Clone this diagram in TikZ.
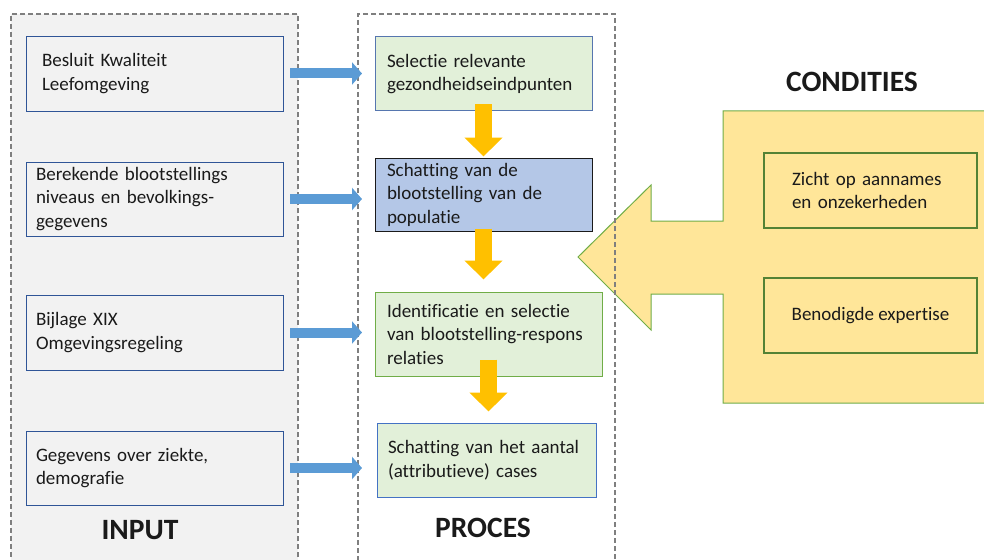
\documentclass[tikz,border=0pt]{standalone}
\usepackage{fontspec}
\setmainfont{Carlito}[Ligatures=NoCommon]
\usetikzlibrary{arrows.meta}
\definecolor{inbg}{HTML}{F2F2F2}
\definecolor{inline}{HTML}{2F5597}
\definecolor{grn}{HTML}{E2F0D9}
\definecolor{grnline}{HTML}{70AD47}
\definecolor{dkgrn}{HTML}{548235}
\definecolor{blu}{HTML}{B4C7E7}
\definecolor{bluline}{HTML}{4472C4}
\definecolor{inarrow}{HTML}{5B9BD5}
\definecolor{steparrow}{HTML}{FFC000}
\definecolor{cond}{HTML}{FFE699}
\definecolor{txt}{HTML}{1A1A1A}
\definecolor{dash}{HTML}{7F7F7F}
\tikzset{
  txtbox/.style={inner ysep=0pt, align=left, text=txt,
    font=\fontsize{19}{23.5}\selectfont},
  inbox/.style={txtbox, draw=inline, fill=inbg, line width=0.9pt,
    minimum height=75pt, inner xsep=10pt, text width=237pt},
  prbox/.style={txtbox, fill=grn, line width=1pt, inner xsep=12pt},
  condbox/.style={txtbox, draw=dkgrn, fill=cond, line width=2pt,
    minimum width=213pt, minimum height=75pt},
  container/.style={draw=dash, line width=2pt, dash pattern=on 5pt off 3pt,
    anchor=north west, minimum height=560pt, inner sep=0pt},
  heading/.style={font=\fontsize{29.5}{32}\selectfont\bfseries, text=txt},
  feed/.style={inarrow, line width=10pt, -{Triangle[length=10pt,width=22pt]}},
  next/.style={steparrow, line width=17pt, -{Triangle[length=19pt,width=37pt]}},
}
\begin{document}
\begin{tikzpicture}[x=1pt,y=-1pt]
\useasboundingbox (0,0) rectangle (984,559);

% conditions callout
\draw[grnline, fill=cond, line width=1pt]
  (578,257) -- (651,185) -- (651,221) -- (723,221) -- (723,111)
  -- (985,111) -- (985,403) -- (723,403) -- (723,294) -- (651,294)
  -- (651,330) -- cycle;

% columns
\node[container, fill=inbg, minimum width=287pt] (inp) at (10,13) {};
\node[container, minimum width=257pt] (prc) at (357,13) {};

% input
\node[inbox, inner xsep=16pt, text width=225pt] (in1) at (154.5,73.5)
  {Besluit Kwaliteit\\Leefomgeving};
\node[inbox, minimum height=74pt] (in2) at (154.5,199)
  {Berekende blootstellings\\niveaus en bevolkings-\\gegevens};
\node[inbox] (in3) at (154.5,332.5) {Bijlage XIX\\Omgevingsregeling};
\node[inbox, minimum height=74pt] (in4) at (154.5,468)
  {Gegevens over ziekte,\\demografie};

% proces
\node[prbox, draw=bluline!70!gray, text width=193pt, minimum height=74pt]
  (p1) at (483.5,74) {Selectie relevante\\gezondheidseindpunten};
\node[prbox, fill=blu, draw=txt, text width=193pt, minimum height=73pt]
  (p2) at (483.5,194.5) {Schatting van de\\blootstelling van de\\populatie};
\node[prbox, draw=grnline, text width=203pt, minimum height=84pt]
  (p3) at (488.5,334) {Identificatie en selectie\\van blootstelling-respons\\relaties};
\node[prbox, draw=bluline, inner xsep=11pt, text width=197pt, minimum height=74pt]
  (p4) at (486.5,460) {Schatting van het aantal\\(attributieve) cases};

% condities
\node[condbox, inner xsep=28pt, text width=157pt] (c1) at (870.5,190.5)
  {Zicht op aannames\\en onzekerheden};
\node[condbox, align=center] (c2) at (870.5,315.5) {Benodigde expertise};

% headings
\node[heading] (hin) at (140,530) {INPUT};
\node[heading] (hpr) at (483,528) {PROCES};
\node[heading] (hco) at (852,82) {CONDITIES};

% arrows
\foreach \i in {1,...,4}
  \draw[feed, shorten <=7pt, shorten >=-5pt] (in\i.east) -- (in\i.east -| prc.west);
\draw[next, shorten <=-7pt, shorten >=1pt] (p1.south) -- (p2.north);
\draw[next, shorten <=-3pt, shorten >=12pt] (p2.south) -- (p2.south |- p3.north);
\draw[next, shorten <=-17pt, shorten >=11pt] (p3.south) -- (p3.south |- p4.north);
\end{tikzpicture}
\end{document}
